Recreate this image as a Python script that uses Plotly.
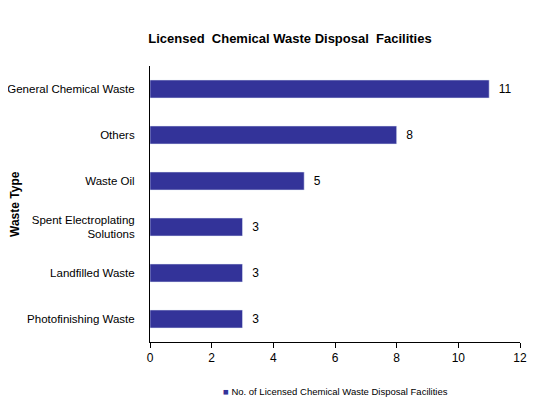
import plotly.graph_objects as go

waste_types = [
    "Photofinishing Waste",
    "Landfilled Waste",
    "Spent Electroplating<br>Solutions",
    "Waste Oil",
    "Others",
    "General Chemical Waste",
]
facilities = [3, 3, 3, 5, 8, 11]
series_name = "No. of Licensed Chemical Waste Disposal Facilities"
bar_color = "#333399"

font = "Liberation Sans, Arial, sans-serif"

fig = go.Figure(
    go.Bar(
        x=facilities,
        y=waste_types,
        orientation="h",
        name=series_name,
        marker=dict(color=bar_color),
        width=0.39,
        text=facilities,
        texttemplate="  %{x}",
        textposition="outside",
        textfont=dict(size=12, color="black"),
        cliponaxis=False,
        showlegend=False,
    )
)

# page body adds an 8px offset, so the figure is 8px smaller than the window
fig.update_layout(
    width=532,
    height=400,
    paper_bgcolor="white",
    plot_bgcolor="white",
    font=dict(family=font, size=12, color="black"),
    margin=dict(l=142, r=20, t=58, b=66, autoexpand=False),
    title=dict(
        text="<b>Licensed  Chemical Waste Disposal  Facilities</b>",
        x=0.53, xanchor="center", y=0.925, yanchor="middle",
        font=dict(size=13),
    ),
    xaxis=dict(
        range=[0, 12],
        dtick=2,
        showgrid=False,
        zeroline=False,
        showline=True,
        linecolor="black",
        linewidth=1,
        ticks="outside",
        ticklen=5,
        tickcolor="black",
        tickfont=dict(size=12),
        automargin=False,
    ),
    yaxis=dict(
        showgrid=False,
        showline=True,
        linecolor="black",
        linewidth=1,
        ticks="",
        ticklabelstandoff=12,
        tickfont=dict(size=11.5),
        automargin=False,
    ),
    showlegend=False,
)

fig.add_annotation(
    text="<b>Waste Type</b>",
    textangle=-90,
    xref="paper", yref="paper",
    x=-0.365, y=0.5, xanchor="center", yanchor="middle",
    showarrow=False, font=dict(size=12),
)

fig.add_annotation(
    text=f"<span style='color:{bar_color}'>■</span> {series_name}",
    xref="paper", yref="paper",
    x=0.5, y=-0.181, xanchor="center", yanchor="middle",
    showarrow=False, font=dict(size=9.5),
)

fig.write_html("out.html")
